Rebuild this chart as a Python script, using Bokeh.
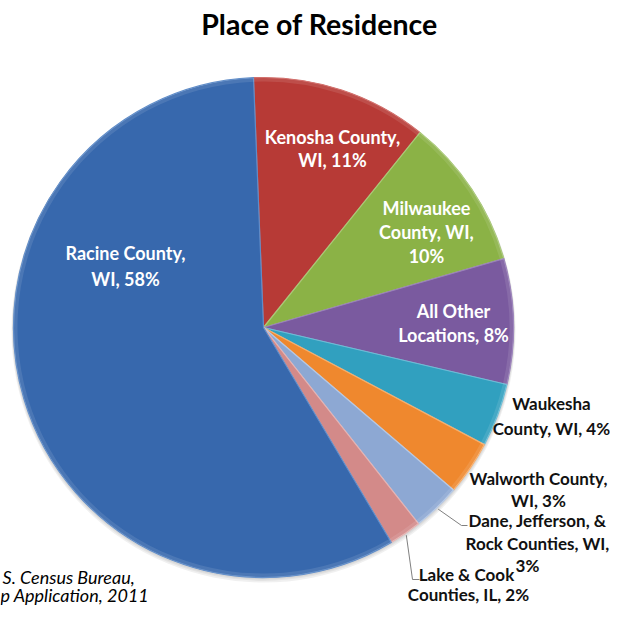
import math
from bokeh.plotting import figure
from bokeh.models import Range1d, ColumnDataSource
from bokeh.core.properties import value
from bokeh.embed import file_html
from bokeh.resources import INLINE

# ---- data (clockwise from the top) ----
categories = ["Kenosha County, WI", "Milwaukee County, WI", "All Other Locations",
              "Waukesha County, WI", "Walworth County, WI",
              "Dane, Jefferson, & Rock Counties, WI", "Lake & Cook Counties, IL",
              "Racine County, WI"]
shares = [11.4, 9.8, 8.1, 4.1, 3.5, 3.1, 2.1, 57.9]
label_lines = [
    ["Kenosha County,", "WI, 11%"],
    ["Milwaukee", "County, WI,", "10%"],
    ["All Other", "Locations, 8%"],
    ["Waukesha", "County, WI, 4%"],
    ["Walworth County,", "WI, 3%"],
    ["Dane, Jefferson, &", "Rock Counties, WI,", "3%"],
    ["Lake & Cook", "Counties, IL, 2%"],
    ["Racine County,", "WI, 58%"],
]
title_text = "Place of Residence"
source_lines = ["S. Census Bureau,", "p Application, 2011"]

# ---- styles / layout ----
colors = ["#B73A36", "#8BB246", "#7A5A9F", "#31A0BF", "#EF882E", "#8DA8D3", "#D38A89", "#3768AD"]
edge_colors = ["#D06A66", "#A9C977", "#9A80BA", "#6CBDD6", "#F7AE6C", "#B4C8E6", "#E6B2B1", "#5F8CC8"]
W, H = 610, 606
def X(px): return px              # picture pixel -> data
def Y(py): return H - py

cx, cy, R = 263, 327, 250          # picture pixels
start_offset = -2.3                # degrees clockwise from 12 o'clock

# label anchor positions (picture pixels, one per line), sizes and colours
label_pos = [
    [(332, 136), (332, 159)],
    [(426, 207), (426, 231), (426, 255)],
    [(453, 310), (453, 334)],
    [(551, 403), (551, 428)],
    [(538, 478), (538, 500)],
    [(537, 520), (537, 543), (527, 565)],
    [(466, 574), (468, 594)],
    [(125, 252), (125, 278)],
]
label_color = ["white", "white", "white", "#111111", "#111111", "#111111", "#111111", "white"]
label_size = ["18px", "18px", "18px", "17px", "17px", "17px", "17px", "18px"]

p = figure(width=W, height=H, output_backend="svg", toolbar_location=None,
           x_range=Range1d(0, W), y_range=Range1d(0, H), min_border=0)
p.axis.visible = False
p.xgrid.visible = False
p.ygrid.visible = False
p.outline_line_color = None
p.background_fill_color = "white"

# soft shadow
for i, a in enumerate([0.05, 0.05, 0.06]):
    p.circle(x=[X(cx)], y=[Y(cy) - 1 - i], radius=R + 1 + i * 0.5, fill_color="#000000",
             fill_alpha=a, line_color=None)

total = sum(shares)
starts, ends, mids = [], [], []
th = start_offset
for s in shares:
    t0, t1 = th, th + s / total * 360.0
    starts.append(math.radians(90 - t0))
    ends.append(math.radians(90 - t1))
    mids.append((t0 + t1) / 2)
    th = t1

src = ColumnDataSource(dict(x=[X(cx)] * len(shares), y=[Y(cy)] * len(shares),
                            start=starts, end=ends, color=colors, edge=edge_colors,
                            name=categories, share=shares))
p.wedge(x="x", y="y", radius=R, start_angle="start", end_angle="end", direction="clock",
        fill_color="color", line_color="edge", line_width=1.2, source=src)

# subtle inner bevel highlight along the rim
p.annular_wedge(x="x", y="y", inner_radius=R - 4, outer_radius=R, start_angle="start",
                end_angle="end", direction="clock", fill_color="white", fill_alpha=0.10,
                line_color=None, source=src)

# leader lines for Dane... and Lake & Cook
def rim_point(theta_deg, r):
    t = math.radians(theta_deg)
    return cx + r * math.sin(t), cy - r * math.cos(t)

for idx, elbow, end in [(5, (461, 525), (467, 525)), (6, (412, 579), (419, 579))]:
    sx, sy = rim_point(mids[idx], R + 2)
    p.line(x=[X(sx), X(elbow[0]), X(end[0])], y=[Y(sy), Y(elbow[1]), Y(end[1])],
           line_color="#808080", line_width=1)

# slice labels
for lines, pos, col, size in zip(label_lines, label_pos, label_color, label_size):
    p.text(x=[X(px) for px, _ in pos], y=[Y(py) for _, py in pos], text=lines[:len(pos)],
           text_color=col, text_font=value("Lato"), text_font_style="bold",
           text_font_size=size, text_align="center", text_baseline="middle")

# title
p.text(x=[X(319)], y=[Y(23)], text=[title_text], text_font=value("Lato"),
       text_font_style="bold", text_font_size="28.5px", text_align="center",
       text_baseline="middle", text_color="#000000")

# source note (cropped at the left in the reference)
p.text(x=[X(2), X(0)], y=[Y(576), Y(594)], text=source_lines, text_font=value("Lato"),
       text_font_style="italic", text_font_size="18px", text_align="left",
       text_baseline="middle", text_color="#000000")

open("out.html", "w").write(file_html(p, INLINE))
